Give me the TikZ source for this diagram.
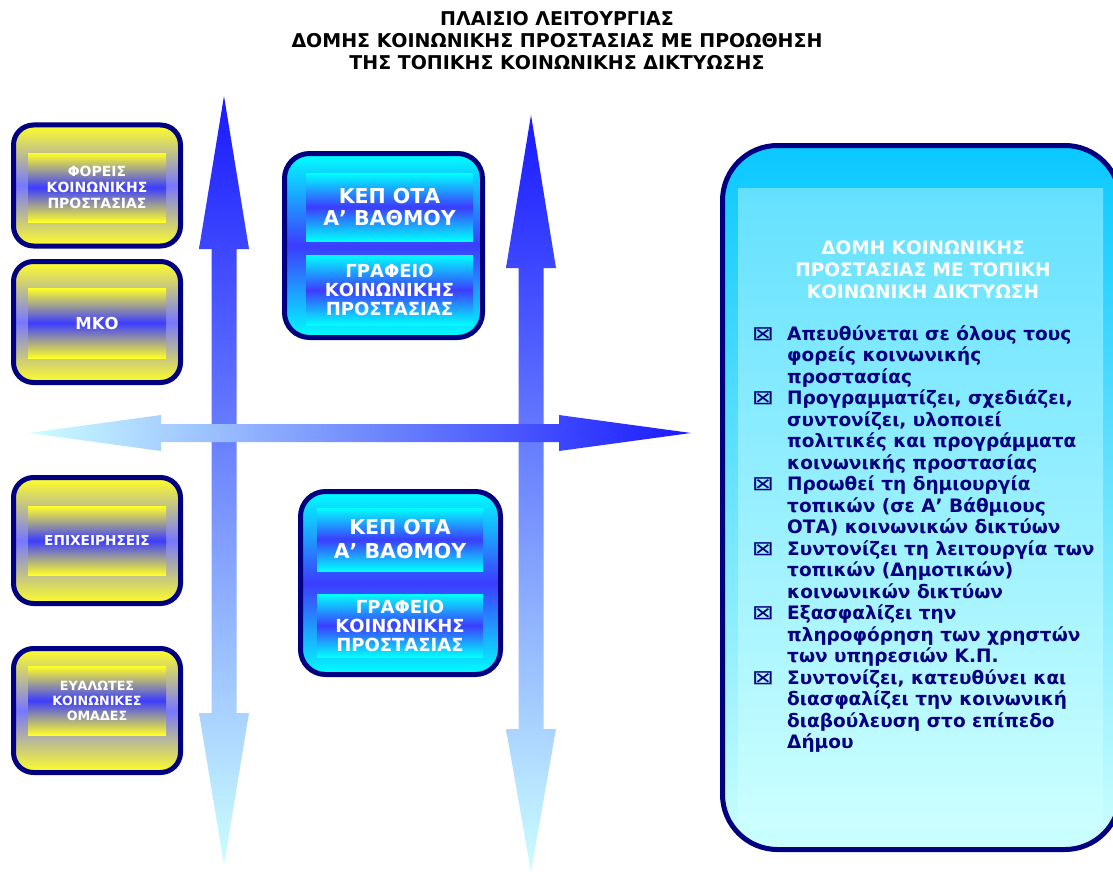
\documentclass[tikz,border=0pt]{standalone}
\usepackage{fontspec}
\setmainfont{DejaVu Sans}
\newfontfamily\markfont{DejaVu Sans}
\definecolor{navy}{RGB}{0,0,128}
\definecolor{ylw}{RGB}{255,255,40}
\definecolor{blu}{RGB}{60,60,255}
\definecolor{cyn}{RGB}{0,255,255}
\definecolor{deepblu}{RGB}{25,25,255}
\definecolor{pale}{RGB}{204,255,255}
\definecolor{skytop}{RGB}{10,200,255}
\definecolor{skyin}{RGB}{100,225,255}
\def\fs#1#2{\bfseries\fontsize{#1}{#2}\selectfont}

\tikzset{
  ybox/.style={draw=navy, line width=5pt, rounded corners=20pt, inner sep=0pt,
    minimum width=167pt, minimum height=121pt,
    top color=ylw, bottom color=ylw, middle color=blu!70!white},
  yin/.style={inner sep=0pt, minimum width=138pt, minimum height=69pt,
    top color=ylw, bottom color=ylw, middle color=blu, text=white, align=center},
  cbox/.style={draw=navy, line width=5pt, rounded corners=25pt, inner sep=0pt,
    top color=cyn, bottom color=cyn, middle color=blu},
  cin/.style={inner sep=0pt, minimum width=167pt,
    top color=cyn, bottom color=cyn, middle color=blu, text=white, align=center},
  itm/.style={inner sep=0pt, text=navy, align=left, font=\fs{18.5}{21.5}},
  itmark/.style={inner sep=0pt, text=navy, font=\markfont\fontsize{19}{20}\selectfont}
}

\begin{document}
\begin{tikzpicture}[x=1pt, y=-1pt]
\useasboundingbox (0,0) rectangle (1113,872);

% title
\node[inner sep=0pt, align=center, anchor=north, font=\fs{19}{22}] (title) at (557,11)
  {ΠΛΑΙΣΙΟ ΛΕΙΤΟΥΡΓΙΑΣ\\ΔΟΜΗΣ ΚΟΙΝΩΝΙΚΗΣ ΠΡΟΣΤΑΣΙΑΣ ΜΕ ΠΡΟΩΘΗΣΗ\\ΤΗΣ ΤΟΠΙΚΗΣ ΚΟΙΝΩΝΙΚΗΣ ΔΙΚΤΥΩΣΗΣ};

% vertical arrows
\foreach \x/\t/\a/\b/\e in {224/96/249/713/865, 531/115/268/729/872}{
  \shade[top color=deepblu, bottom color=pale]
    (\x,\t) -- (\x+25,\a) -- (\x+12.5,\a) -- (\x+12.5,\b) -- (\x+25,\b) -- (\x,\e)
    -- (\x-25,\b) -- (\x-12.5,\b) -- (\x-12.5,\a) -- (\x-25,\a) -- cycle;
}
% horizontal arrow
\shade[left color=pale, right color=deepblu]
  (29,433) -- (161,415) -- (161,424) -- (559,424) -- (559,415) -- (691,433)
  -- (559,451) -- (559,442) -- (161,442) -- (161,451) -- cycle;

% left boxes
\node[ybox] (foreis) at (97,185.5) {};
\node[yin, font=\fs{14}{16}] (foreisIn) at (97,187.5) {ΦΟΡΕΙΣ\\ΚΟΙΝΩΝΙΚΗΣ\\ΠΡΟΣΤΑΣΙΑΣ};
\node[ybox] (mko) at (97,322) {};
\node[yin, minimum height=70pt, font=\fs{16.5}{19}] (mkoIn) at (97,323) {ΜΚΟ};
\node[ybox, minimum height=126pt] (epix) at (97,540.5) {};
\node[yin, font=\fs{13.7}{16}] (epixIn) at (97,540.5) {ΕΠΙΧΕΙΡΗΣΕΙΣ};
\node[ybox, minimum height=124pt] (eval) at (97,710.5) {};
\node[yin, font=\fs{12.7}{15}] (evalIn) at (97,700.5) {ΕΥΑΛΩΤΕΣ\\ΚΟΙΝΩΝΙΚΕΣ\\ΟΜΑΔΕΣ};

% KEP boxes
\node[cbox, minimum width=198pt, minimum height=184pt] (kepA) at (383.5,245.5) {};
\node[cin, minimum height=68pt, font=\fs{20.5}{22.5}] (kepAtop) at (389.5,207) {ΚΕΠ ΟΤΑ\\Α’ ΒΑΘΜΟΥ};
\node[cin, minimum height=70pt, font=\fs{18}{19}] (kepAbot) at (389.5,290) {ΓΡΑΦΕΙΟ\\ΚΟΙΝΩΝΙΚΗΣ\\ΠΡΟΣΤΑΣΙΑΣ};
\node[cbox, minimum width=200pt, minimum height=183pt] (kepB) at (400.5,583) {};
\node[cin, minimum width=166pt, minimum height=63pt, font=\fs{20.5}{24}] (kepBtop) at (400,539.5) {ΚΕΠ ΟΤΑ\\Α’ ΒΑΘΜΟΥ};
\node[cin, minimum width=166pt, minimum height=63pt, font=\fs{18}{19}] (kepBbot) at (400,625.5) {ΓΡΑΦΕΙΟ\\ΚΟΙΝΩΝΙΚΗΣ\\ΠΡΟΣΤΑΣΙΑΣ};

% right box
\node[draw=navy, line width=5pt, rounded corners=55pt, inner sep=0pt,
  minimum width=397.5pt, minimum height=704pt, top color=skytop, bottom color=pale] (domi) at (921.25,497.5) {};
\node[inner sep=0pt, minimum width=365pt, minimum height=640pt, top color=skyin, bottom color=pale] (domiIn) at (920.5,508) {};
\node[inner sep=0pt, text=white, align=center, font=\fs{18.5}{22}] (domiTitle) at (923,270)
  {ΔΟΜΗ ΚΟΙΝΩΝΙΚΗΣ\\ΠΡΟΣΤΑΣΙΑΣ ΜΕ ΤΟΠΙΚΗ\\ΚΟΙΝΩΝΙΚΗ ΔΙΚΤΥΩΣΗ};

% items: first line index / number of lines / text
\foreach \k/\n/\txt in {
  0/3/{Απευθύνεται σε όλους τους\\φορείς κοινωνικής\\προστασίας},
  3/4/{Προγραμματίζει, σχεδιάζει,\\συντονίζει, υλοποιεί\\πολιτικές και προγράμματα\\κοινωνικής προστασίας},
  7/3/{Προωθεί τη δημιουργία\\τοπικών (σε Α’ Βάθμιους\\ΟΤΑ) κοινωνικών δικτύων},
  10/3/{Συντονίζει τη λειτουργία των\\τοπικών (Δημοτικών)\\κοινωνικών δικτύων},
  13/3/{Εξασφαλίζει την\\πληροφόρηση των χρηστών\\των υπηρεσιών Κ.Π.},
  16/4/{Συντονίζει, κατευθύνει και\\διασφαλίζει την κοινωνική\\διαβούλευση στο επίπεδο\\Δήμου}}{
  \node[itm, anchor=base west] (item\k) at (787,340+21.5*\k+21.5*\n-21.5) {\txt};
  \node[itmark, anchor=base] (mark\k) at (763,340+21.5*\k) {\scalebox{1.4}[1.05]{⊠}};
}
\end{tikzpicture}
\end{document}
